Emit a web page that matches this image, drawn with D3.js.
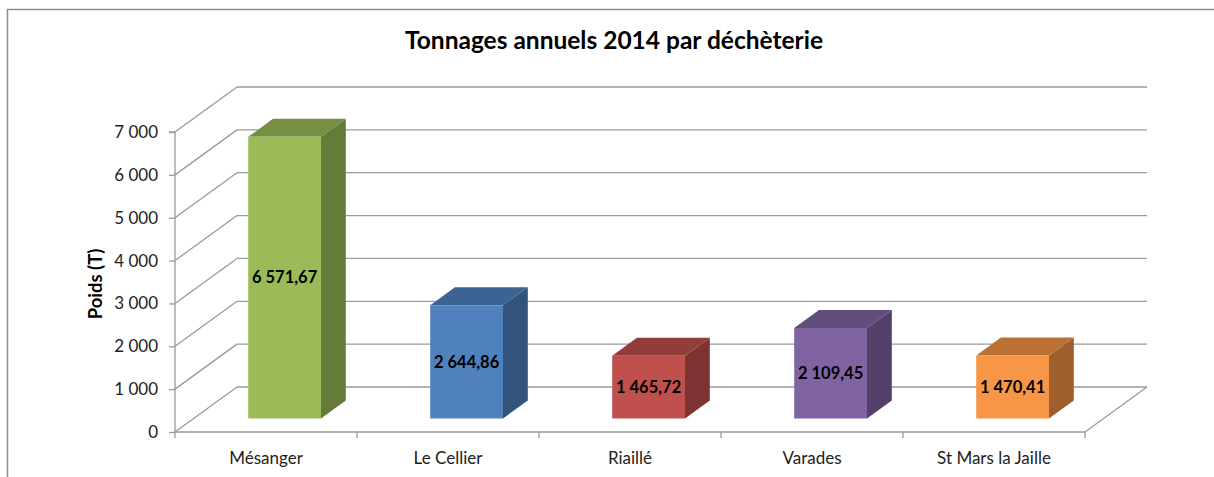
<!DOCTYPE html>
<html>
<head>
<meta charset="utf-8">
<script src="https://cdn.jsdelivr.net/npm/d3@7"></script>
<style>
  html, body { margin: 0; padding: 0; background: #fff; }
  svg { display: block; }
  text { font-family: Lato, "Open Sans", sans-serif; }
</style>
</head>
<body>
<svg id="chart" width="1214" height="477"></svg>
<script>
// ---- data ----
const categories = ["Mésanger", "Le Cellier", "Riaillé", "Varades", "St Mars la Jaille"];
const values = [6571.67, 2644.86, 1465.72, 2109.45, 1470.41];
const valueLabels = ["6 571,67", "2 644,86", "1 465,72", "2 109,45", "1 470,41"];
const yTicks = [0, 1000, 2000, 3000, 4000, 5000, 6000, 7000];
const yTickLabels = ["0", "1 000", "2 000", "3 000", "4 000", "5 000", "6 000", "7 000"];
const frontColors = ["#9BBB59", "#4F81BD", "#C0504D", "#8064A2", "#F79646"];
const topColors   = ["#778F42", "#3C6392", "#913D3A", "#614C7C", "#BB7133"];
const sideColors  = ["#657B39", "#32537C", "#7C3331", "#533F6A", "#9F5F2C"];
const title = "Tonnages annuels 2014 par déchèterie";
const yTitle = "Poids (T)";

// ---- layout ----
const svg = d3.select("#chart");
const x0 = 175, x1 = 1085;
const depthX = 62, depthY = -45;
const x = d3.scaleBand().domain(categories).range([x0, x1]).paddingInner(0).paddingOuter(0);
const y = d3.scaleLinear().domain([0, 7000]).range([432, 132]);
const proj = (px, v, z) => [px + depthX * z, y(v) + depthY * z];
const gridColor = "#9a9a9a";

// chart border
svg.append("path").attr("d", "M7.5,477 L7.5,9.5 L1214,9.5")
  .attr("fill", "none").attr("stroke", "#8c8c8c").attr("stroke-width", 1.5);

// title
svg.append("text").attr("x", 614).attr("y", 49).attr("text-anchor", "middle")
  .attr("font-size", 24.5).attr("font-weight", "bold").attr("fill", "#000").text(title);

const grid = svg.append("g");
// back wall gridlines + left wall diagonals
yTicks.forEach(t => {
  const [bx, by] = proj(x0, t, 1);
  const [ex] = proj(x1, t, 1);
  grid.append("line").attr("x1", x0).attr("y1", y(t)).attr("x2", bx).attr("y2", by)
    .attr("stroke", gridColor).attr("stroke-width", 1.3);
  grid.append("line").attr("x1", bx).attr("y1", by).attr("x2", ex).attr("y2", by)
    .attr("stroke", gridColor).attr("stroke-width", 1.3);
});
// floor right diagonal
{
  const [bx, by] = proj(x1, 0, 1);
  grid.append("line").attr("x1", x1).attr("y1", y(0)).attr("x2", bx).attr("y2", by)
    .attr("stroke", gridColor).attr("stroke-width", 1.3);
}

// y axis (front)
const yAxis = d3.axisLeft(y).tickValues(yTicks).tickSize(6).tickPadding(11)
  .tickFormat((d, i) => yTickLabels[i]);
const gy = svg.append("g").attr("transform", `translate(${x0},0)`).call(yAxis);
gy.select(".domain").attr("stroke", gridColor).attr("stroke-width", 1.3).attr("d", `M-6,${y(7000)}H0V${y(0)}`);
gy.selectAll(".tick line").attr("stroke", gridColor).attr("stroke-width", 1.3);
gy.selectAll(".tick text").attr("font-size", 17).attr("fill", "#222")
  .style("font-family", "Lato, sans-serif");

// x axis (front)
const xAxis = d3.axisBottom(x).tickSize(0).tickPadding(20);
const gx = svg.append("g").attr("transform", `translate(0,${y(0)})`).call(xAxis);
gx.select(".domain").attr("stroke", gridColor).attr("stroke-width", 1.3).attr("d", `M${x0},0H${x1}`);
gx.selectAll(".tick text").attr("font-size", 17).attr("fill", "#222")
  .style("font-family", "Lato, sans-serif");
// boundary ticks
const bounds = categories.map(c => x(c)).concat([x1]);
bounds.forEach(b => {
  svg.append("line").attr("x1", b).attr("x2", b).attr("y1", y(0)).attr("y2", y(0) + 6)
    .attr("stroke", gridColor).attr("stroke-width", 1.3);
});

// y title
svg.append("text").attr("transform", "translate(102,284) rotate(-90)")
  .attr("text-anchor", "middle").attr("font-size", 18.5).attr("font-weight", "bold")
  .attr("fill", "#000").text(yTitle);

// bars
const bw = x.bandwidth() * 0.4;
const zF = 0.3, zB = 0.7;
const bars = svg.append("g");
categories.forEach((c, i) => {
  const v = values[i];
  const left = x(c) + (x.bandwidth() - bw) / 2;
  const right = left + bw;
  const pts = (arr) => arr.map(p => p.join(",")).join(" ");
  const fBL = proj(left, 0, zF), fBR = proj(right, 0, zF), fTR = proj(right, v, zF), fTL = proj(left, v, zF);
  const bTL = proj(left, v, zB), bTR = proj(right, v, zB), bBR = proj(right, 0, zB);
  const g = bars.append("g");
  // side
  g.append("polygon").attr("points", pts([fBR, fTR, bTR, bBR])).attr("fill", sideColors[i]);
  // top
  g.append("polygon").attr("points", pts([fTL, fTR, bTR, bTL])).attr("fill", topColors[i]);
  // front
  g.append("polygon").attr("points", pts([fBL, fBR, fTR, fTL])).attr("fill", frontColors[i]);
  // label
  g.append("text").attr("x", (fBL[0] + fBR[0]) / 2).attr("y", (fBL[1] + fTL[1]) / 2)
    .attr("dy", "0.35em").attr("text-anchor", "middle").attr("font-size", 16.5)
    .attr("font-weight", "bold").attr("fill", "#000").text(valueLabels[i]);
});
</script>
</body>
</html>
